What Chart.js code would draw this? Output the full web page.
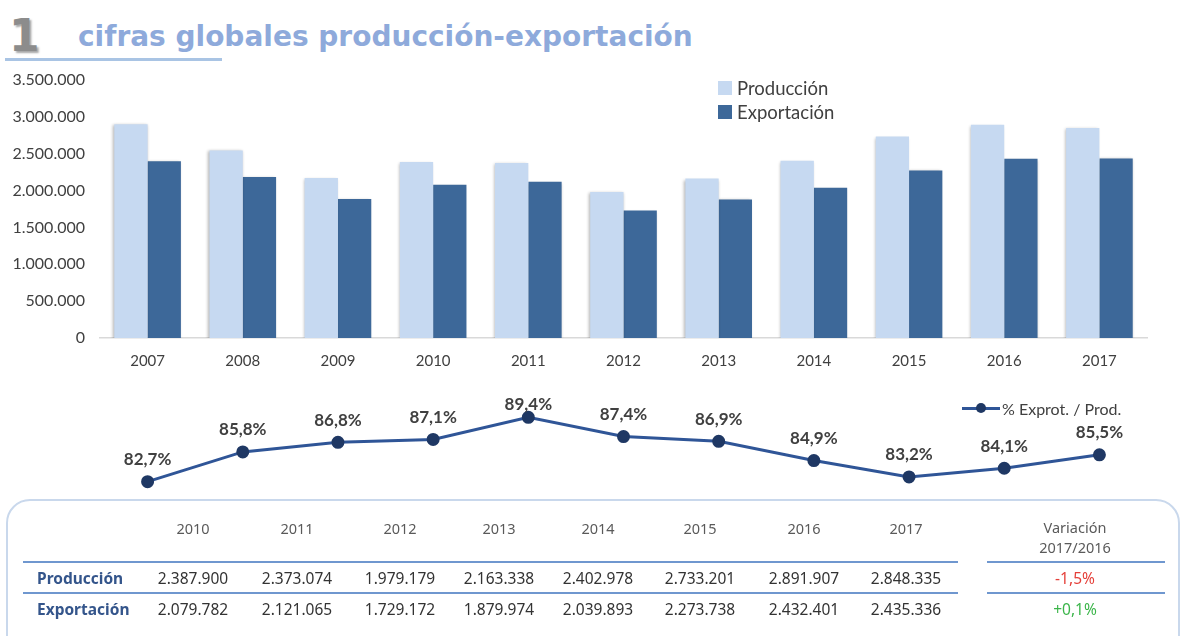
<!DOCTYPE html>
<html lang="es">
<head>
<meta charset="utf-8">
<title>cifras globales producción-exportación</title>
<script src="https://cdn.jsdelivr.net/npm/chart.js@4.4.1/dist/chart.umd.min.js"></script>
<style>
    html, body { margin: 0; padding: 0; background: #fff; }
    body { width: 1184px; height: 636px; position: relative; overflow: hidden; font-family: Lato, sans-serif; }
    .num { position: absolute; left: 9px; top: 10px; font: bold 44px "DejaVu Sans"; color: #8c8c8c; text-shadow: 2px 2px 2px rgba(0,0,0,0.35); }
    .title { position: absolute; left: 78px; top: 20px; font: bold 28px "DejaVu Sans"; color: #8eaadb; white-space: nowrap; }
    .title-rule { position: absolute; left: 5px; top: 58px; width: 217px; height: 3px; background: #a9c4e4; }
    canvas { position: absolute; left: 0; }
    #barChart { top: 60px; }
    #lineChart { top: 392px; }
    .legend { position: absolute; color: #404040; white-space: nowrap; }
    .legend .item { display: flex; align-items: center; height: 24px; font-size: 18.5px; }
    .legend .box { width: 14px; height: 14px; margin-right: 5px; }
    .line-legend { position: absolute; left: 962px; top: 399px; display: flex; align-items: center; font-size: 16px; color: #404040; white-space: nowrap; }
    .line-legend .mark { position: relative; width: 38px; height: 3px; background: #2f5597; margin-right: 2px; }
    .line-legend .mark::after { content: ''; position: absolute; left: 14px; top: -4px; width: 10px; height: 10px; border-radius: 50%; background: #1f3864; }
    .box-frame { position: absolute; left: 6px; top: 499px; width: 1170px; height: 170px; border: 2.5px solid #c9d8ec; border-radius: 24px; }
    .cell { position: absolute; transform: translate(-50%, -50%); white-space: nowrap; font-family: "Noto Sans", sans-serif; }
    .head { font-size: 14.5px; color: #5a5a5a; }
    .val { font-size: 15.5px; color: #333; }
    .rowlab { position: absolute; transform: translateY(-50%); font: bold 15.5px "Noto Sans", sans-serif; color: #34558b; }
    .rule { position: absolute; height: 2px; background: #6f97cf; }
</style>
</head>
<body>
<div class="num">1</div>
<div class="title">cifras globales producción-exportación</div>
<div class="title-rule"></div>

<canvas id="barChart" width="1184" height="320"></canvas>
<div class="legend" id="barLegend" style="left:718px; top:76px;"></div>

<canvas id="lineChart" width="1184" height="114"></canvas>
<div class="line-legend"><span class="mark"></span><span id="lineLegendText"></span></div>

<div class="box-frame"></div>
<div id="table"></div>

<script>
// bar chart data
const years = ['2007', '2008', '2009', '2010', '2011', '2012', '2013', '2014', '2015', '2016', '2017'];
const produccion = [2900000, 2545000, 2172000, 2387900, 2373074, 1979179, 2163338, 2402978, 2733201, 2891907, 2848335];
const exportacion = [2398000, 2184000, 1885000, 2079782, 2121065, 1729172, 1879974, 2039893, 2273738, 2432401, 2435336];
const yTicks = [0, 500000, 1000000, 1500000, 2000000, 2500000, 3000000, 3500000];

// line chart: % exportación / producción
const ratio = [82.7, 85.8, 86.8, 87.1, 89.4, 87.4, 86.9, 84.9, 83.2, 84.1, 85.5];

// table
const tableYears = ['2010', '2011', '2012', '2013', '2014', '2015', '2016', '2017'];
const tableProd = ['2.387.900', '2.373.074', '1.979.179', '2.163.338', '2.402.978', '2.733.201', '2.891.907', '2.848.335'];
const tableExp = ['2.079.782', '2.121.065', '1.729.172', '1.879.974', '2.039.893', '2.273.738', '2.432.401', '2.435.336'];
const variacion = ['-1,5%', '+0,1%'];

const COLOR_PROD = '#c6d9f1';
const COLOR_EXP = '#3d6899';

function formatThousands(v) {
    return String(v).replace(/\B(?=(\d{3})+(?!\d))/g, '.');
}

function formatPct(v) {
    return v.toFixed(1).replace('.', ',') + '%';
}

// soft shadow behind the bars, like the Excel original
const barShadow = {
    id: 'barShadow',
    beforeDatasetsDraw(chart) {
        const ctx = chart.ctx;
        ctx.save();
        ctx.shadowColor = 'rgba(0,0,0,0.3)';
        ctx.shadowBlur = 3;
        ctx.shadowOffsetX = -1;
        ctx.shadowOffsetY = 1;
    },
    afterDatasetsDraw(chart) {
        chart.ctx.restore();
    }
};

const pointLabels = {
    id: 'pointLabels',
    afterDatasetsDraw(chart) {
        const ctx = chart.ctx;
        const meta = chart.getDatasetMeta(0);
        ctx.save();
        ctx.font = 'bold 17px Lato';
        ctx.fillStyle = '#404040';
        ctx.textAlign = 'center';
        ctx.textBaseline = 'middle';
        meta.data.forEach((pt, i) => {
            const y = Math.max(pt.y - 22, 13);
            ctx.fillText(formatPct(ratio[i]), pt.x, y);
        });
        ctx.restore();
    }
};

const barChart = new Chart(document.getElementById('barChart'), {
    type: 'bar',
    data: {
        labels: years,
        datasets: [
            { label: 'Producción', data: produccion, backgroundColor: COLOR_PROD, barPercentage: 1, categoryPercentage: 0.7 },
            { label: 'Exportación', data: exportacion, backgroundColor: COLOR_EXP, barPercentage: 1, categoryPercentage: 0.7 }
        ]
    },
    options: {
        responsive: false,
        animation: false,
        layout: { padding: { top: 20, right: 37, left: 0, bottom: 0 } },
        plugins: { legend: { display: false }, tooltip: { enabled: false } },
        scales: {
            x: {
                grid: { display: false },
                border: { color: '#d9d9d9', width: 1.5 },
                ticks: { color: '#404040', font: { family: 'Lato', size: 15 }, padding: 6 },
                afterFit: s => { s.height = 42; }
            },
            y: {
                min: 0,
                max: 3500000,
                afterBuildTicks: s => { s.ticks = yTicks.map(v => ({ value: v })); },
                ticks: { color: '#404040', font: { family: 'Lato', size: 16 }, padding: 7, callback: v => formatThousands(v) },
                grid: { display: false },
                border: { display: false },
                afterFit: s => { s.width = 100; }
            }
        }
    },
    plugins: [barShadow]
});

// legend for the bars
const barLegend = document.getElementById('barLegend');
barChart.data.datasets.forEach(ds => {
    const item = document.createElement('div');
    item.className = 'item';
    item.innerHTML = `<span class="box" style="background:${ds.backgroundColor}"></span>${ds.label}`;
    barLegend.appendChild(item);
});

const lineChart = new Chart(document.getElementById('lineChart'), {
    type: 'line',
    data: {
        labels: years,
        datasets: [{
            label: '% Exprot. / Prod.',
            data: ratio,
            borderColor: '#2f5597',
            borderWidth: 3,
            pointRadius: 5,
            pointBackgroundColor: '#1f3864',
            pointBorderColor: '#1f3864',
            tension: 0
        }]
    },
    options: {
        responsive: false,
        animation: false,
        layout: { padding: { left: 100, right: 37, top: 10, bottom: 3 } },
        plugins: { legend: { display: false }, tooltip: { enabled: false } },
        scales: {
            x: { display: false, offset: true },
            y: { display: false, min: 81, max: 91 }
        }
    },
    plugins: [pointLabels]
});
document.getElementById('lineLegendText').textContent = lineChart.data.datasets[0].label;

// table below the charts
const colX = [193, 297, 400, 499, 598, 700, 804, 906];
const table = document.getElementById('table');

function addCell(cls, text, x, y, color) {
    const d = document.createElement('div');
    d.className = 'cell ' + cls;
    d.style.left = x + 'px';
    d.style.top = y + 'px';
    if (color) d.style.color = color;
    d.textContent = text;
    table.appendChild(d);
}

tableYears.forEach((yr, i) => addCell('head', yr, colX[i], 528));
tableProd.forEach((v, i) => addCell('val', v, colX[i], 578));
tableExp.forEach((v, i) => addCell('val', v, colX[i], 609));
addCell('head', 'Variación', 1075, 527);
addCell('head', '2017/2016', 1075, 547);
addCell('val', variacion[0], 1075, 578, '#e5403a');
addCell('val', variacion[1], 1075, 609, '#3bb54a');

[['Producción', 578], ['Exportación', 609]].forEach(([label, y]) => {
    const d = document.createElement('div');
    d.className = 'rowlab';
    d.style.left = '37px';
    d.style.top = y + 'px';
    d.textContent = label;
    table.appendChild(d);
});

[[23, 958, 562], [23, 958, 593], [987, 1165, 562], [987, 1165, 593]].forEach(([x1, x2, y]) => {
    const r = document.createElement('div');
    r.className = 'rule';
    r.style.left = x1 + 'px';
    r.style.width = (x2 - x1) + 'px';
    r.style.top = (y - 1) + 'px';
    table.appendChild(r);
});
</script>
</body>
</html>
